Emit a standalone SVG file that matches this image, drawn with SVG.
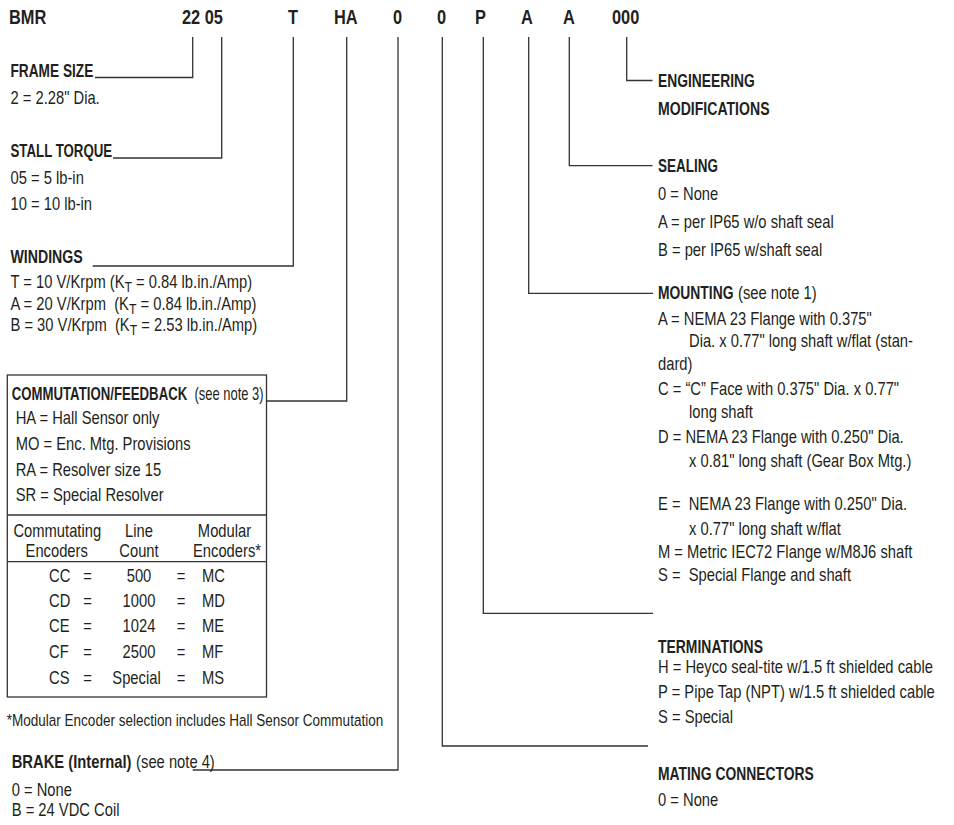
<svg xmlns="http://www.w3.org/2000/svg" width="954" height="825" viewBox="0 0 954 825">
<style>
text{font-family:"Liberation Sans",Arial,sans-serif;fill:#231f20;font-size:18px}
.h{font-weight:bold;font-size:20px}
.b{font-weight:bold;font-size:19px}
.f{font-size:16.5px}
.c{text-anchor:middle}
.s{font-size:15px}
.ln{fill:none;stroke:#333;stroke-width:1.3}
</style>
<rect width="954" height="825" fill="#fff"/>
<g id="connectors" class="ln">
<polyline points="192.7,37 192.7,77.5 95,77.5"/>
<polyline points="221.7,37 221.7,158 113,158"/>
<polyline points="293.3,37 293.3,266 92.7,266"/>
<polyline points="346.7,37 346.7,401 266.5,401"/>
<polyline points="398,37 398,770 192.7,770"/>
<polyline points="442.3,37 442.3,746 648,746"/>
<polyline points="483.3,37 483.3,613.3 653,613.3"/>
<polyline points="528.7,37 528.7,293.3 653,293.3"/>
<polyline points="569.3,37 569.3,165.7 652.5,165.7"/>
<polyline points="626.7,37 626.7,80.5 652.5,80.5"/>
</g>
<g id="header" transform="scale(0.82 1)">
<text class="h" x="10.98" y="24">BMR</text>
<text class="h" x="221.95" y="24">22 05</text>
<text class="h" x="351.22" y="24">T</text>
<text class="h" x="407.32" y="24">HA</text>
<text class="h" x="479.27" y="24">0</text>
<text class="h" x="532.93" y="24">0</text>
<text class="h" x="579.27" y="24">P</text>
<text class="h" x="635.37" y="24">A</text>
<text class="h" x="686.59" y="24">A</text>
<text class="h" x="746.34" y="24">000</text>
</g>
<g id="frame-size" transform="scale(0.82 1)">
<text class="b" x="12.8" y="77" textLength="101" lengthAdjust="spacingAndGlyphs">FRAME SIZE</text>
<text x="12.8" y="104">2 = 2.28" Dia.</text>
</g>
<g id="stall-torque" transform="scale(0.82 1)">
<text class="b" x="12.8" y="157" textLength="124" lengthAdjust="spacingAndGlyphs">STALL TORQUE</text>
<text x="12.8" y="184">05 = 5 lb-in</text>
<text x="12.8" y="210">10 = 10 lb-in</text>
</g>
<g id="windings" transform="scale(0.82 1)">
<text class="b" x="12.8" y="263" textLength="88" lengthAdjust="spacingAndGlyphs">WINDINGS</text>
<text x="12.8" y="288">T = 10 V/Krpm (K<tspan class="s" dy="4">T</tspan><tspan dy="-4"> = 0.84 lb.in./Amp)</tspan></text>
<text x="12.8" y="310">A = 20 V/Krpm &#160;(K<tspan class="s" dy="4">T</tspan><tspan dy="-4"> = 0.84 lb.in./Amp)</tspan></text>
<text x="12.8" y="331.5">B = 30 V/Krpm &#160;(K<tspan class="s" dy="4">T</tspan><tspan dy="-4"> = 2.53 lb.in./Amp)</tspan></text>
</g>
<g id="commutation">
<rect class="ln" x="7.3" y="375" width="259.2" height="322"/>
<line class="ln" x1="7.3" y1="515" x2="266.5" y2="515"/>
<line class="ln" x1="7.3" y1="561.7" x2="266.5" y2="561.7"/>
<text class="b" transform="translate(11.7 400) scale(0.695 1)">COMMUTATION/FEEDBACK</text>
<text transform="translate(194.5 400) scale(0.72 1)">(see note 3)</text>
<g transform="scale(0.82 1)">
<text x="19.15" y="424">HA = Hall Sensor only</text>
<text x="19.15" y="450">MO = Enc. Mtg. Provisions</text>
<text x="19.15" y="476">RA = Resolver size 15</text>
<text x="19.15" y="501.5">SR = Special Resolver</text>
<text class="c" x="69.88" y="537">Commutating</text>
<text class="c" x="169.51" y="537">Line</text>
<text class="c" x="273.78" y="537">Modular</text>
<text class="c" x="69.15" y="557">Encoders</text>
<text class="c" x="169.51" y="557">Count</text>
<text class="c" x="276.83" y="557">Encoders*</text>
<text x="59.76" y="582.5">CC</text><text class="c" x="106.71" y="582.5">=</text><text class="c" x="169.51" y="582.5">500</text><text class="c" x="220.73" y="582.5">=</text><text x="246.34" y="582.5">MC</text>
<text x="59.76" y="607">CD</text><text class="c" x="106.71" y="607">=</text><text class="c" x="169.51" y="607">1000</text><text class="c" x="220.73" y="607">=</text><text x="246.34" y="607">MD</text>
<text x="59.76" y="632.5">CE</text><text class="c" x="106.71" y="632.5">=</text><text class="c" x="169.51" y="632.5">1024</text><text class="c" x="220.73" y="632.5">=</text><text x="246.34" y="632.5">ME</text>
<text x="59.76" y="658">CF</text><text class="c" x="106.71" y="658">=</text><text class="c" x="169.51" y="658">2500</text><text class="c" x="220.73" y="658">=</text><text x="246.34" y="658">MF</text>
<text x="59.76" y="684">CS</text><text class="c" x="106.71" y="684">=</text><text class="c" x="166.46" y="684">Special</text><text class="c" x="220.73" y="684">=</text><text x="246.34" y="684">MS</text>
<text class="f" x="8.17" y="726">*Modular Encoder selection includes Hall Sensor Commutation</text>
</g>
</g>
<g id="brake" transform="scale(0.82 1)">
<text class="b" x="14.27" y="768" textLength="146" lengthAdjust="spacingAndGlyphs">BRAKE (Internal)</text>
<text x="166" y="768">(see note 4)</text>
<text x="14.27" y="796">0 = None</text>
<text x="14.27" y="816">B = 24 VDC Coil</text>
</g>
<g id="engineering" transform="scale(0.82 1)">
<text class="b" x="802.44" y="87.5" textLength="118" lengthAdjust="spacingAndGlyphs">ENGINEERING</text>
<text class="b" x="802.44" y="115" textLength="136" lengthAdjust="spacingAndGlyphs">MODIFICATIONS</text>
</g>
<g id="sealing" transform="scale(0.82 1)">
<text class="b" x="802.44" y="172.5" textLength="73" lengthAdjust="spacingAndGlyphs">SEALING</text>
<text x="802.44" y="200">0 = None</text>
<text x="802.44" y="228.5">A = per IP65 w/o shaft seal</text>
<text x="802.44" y="256.5">B = per IP65 w/shaft seal</text>
</g>
<g id="mounting" transform="scale(0.82 1)">
<text class="b" x="802.44" y="299.5" textLength="92" lengthAdjust="spacingAndGlyphs">MOUNTING</text>
<text x="900" y="299.5">(see note 1)</text>
<text x="802.44" y="325">A = NEMA 23 Flange with 0.375"</text>
<text x="840.24" y="347.5">Dia. x 0.77" long shaft w/flat (stan-</text>
<text x="802.44" y="370.5">dard)</text>
<text x="802.44" y="395">C = “C” Face with 0.375" Dia. x 0.77"</text>
<text x="840.24" y="418.5">long shaft</text>
<text x="802.44" y="443">D = NEMA 23 Flange with 0.250" Dia.</text>
<text x="840.24" y="467">x 0.81" long shaft (Gear Box Mtg.)</text>
<text x="802.44" y="510.5">E = &#160;NEMA 23 Flange with 0.250" Dia.</text>
<text x="840.24" y="535">x 0.77" long shaft w/flat</text>
<text x="802.44" y="558">M = Metric IEC72 Flange w/M8J6 shaft</text>
<text x="802.44" y="581.5">S = &#160;Special Flange and shaft</text>
</g>
<g id="terminations" transform="scale(0.82 1)">
<text class="b" x="802.44" y="653" textLength="128" lengthAdjust="spacingAndGlyphs">TERMINATIONS</text>
<text x="802.44" y="673.5">H = Heyco seal-tite w/1.5 ft shielded cable</text>
<text x="802.44" y="698">P = Pipe Tap (NPT) w/1.5 ft shielded cable</text>
<text x="802.44" y="723">S = Special</text>
</g>
<g id="mating-connectors" transform="scale(0.82 1)">
<text class="b" x="802.44" y="780" textLength="190" lengthAdjust="spacingAndGlyphs">MATING CONNECTORS</text>
<text x="802.44" y="806">0 = None</text>
</g>
</svg>
